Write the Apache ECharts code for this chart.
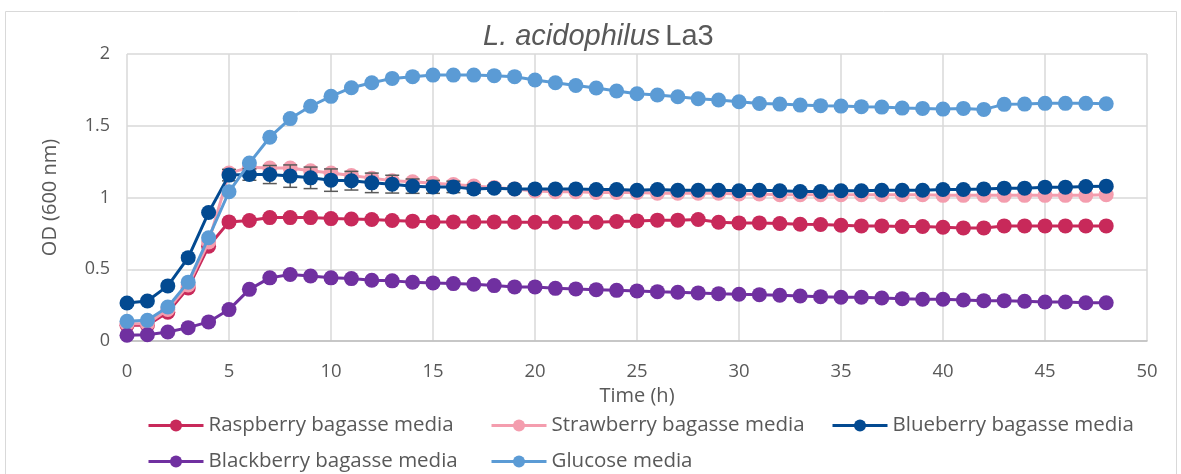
<!DOCTYPE html>
<html>
<head>
<meta charset="utf-8">
<script src="https://cdn.jsdelivr.net/npm/echarts@6/dist/echarts.min.js"></script>
<style>
  html, body { margin: 0; padding: 0; background: #fff; }
  #chart { width: 1181px; height: 474px; }
</style>
</head>
<body>
<div id="chart"></div>
<script>
var hours = [];
for (var h = 0; h <= 48; h++) hours.push(h);

var raspberry = [0.11, 0.11, 0.20, 0.37, 0.66, 0.83, 0.84, 0.86, 0.86, 0.86, 0.853, 0.85, 0.847, 0.84, 0.835, 0.83, 0.83, 0.83, 0.83, 0.828,
    0.828, 0.828, 0.828, 0.828, 0.833, 0.837, 0.842, 0.842, 0.847, 0.828, 0.823, 0.823, 0.819, 0.814, 0.812, 0.807, 0.802, 0.802, 0.798, 0.798,
    0.793, 0.788, 0.788, 0.802, 0.802, 0.802, 0.802, 0.802, 0.802];
var strawberry = [0.12, 0.12, 0.22, 0.39, 0.69, 1.17, 1.21, 1.205, 1.205, 1.186, 1.17, 1.153, 1.135, 1.116, 1.11, 1.10, 1.09, 1.08, 1.07, 1.06,
    1.045, 1.04, 1.04, 1.035, 1.035, 1.035, 1.03, 1.03, 1.03, 1.03, 1.025, 1.025, 1.02, 1.02, 1.02, 1.02, 1.02, 1.02, 1.02, 1.02,
    1.015, 1.015, 1.015, 1.015, 1.015, 1.015, 1.015, 1.015, 1.02];
var blueberry = [0.265, 0.279, 0.384, 0.581, 0.895, 1.156, 1.16, 1.16, 1.149, 1.137, 1.121, 1.117, 1.102, 1.093, 1.079, 1.074, 1.074, 1.06, 1.065, 1.06,
    1.06, 1.06, 1.06, 1.056, 1.056, 1.051, 1.056, 1.051, 1.051, 1.051, 1.047, 1.051, 1.047, 1.042, 1.042, 1.047, 1.047, 1.051, 1.051, 1.051,
    1.056, 1.056, 1.06, 1.065, 1.065, 1.072, 1.072, 1.077, 1.079];
var blackberry = [0.04, 0.044, 0.063, 0.093, 0.133, 0.219, 0.36, 0.44, 0.463, 0.453, 0.44, 0.435, 0.423, 0.419, 0.409, 0.405, 0.40, 0.395, 0.386, 0.377,
    0.377, 0.367, 0.363, 0.358, 0.353, 0.349, 0.344, 0.34, 0.335, 0.33, 0.326, 0.323, 0.319, 0.314, 0.309, 0.305, 0.305, 0.30, 0.295, 0.291,
    0.291, 0.286, 0.281, 0.281, 0.277, 0.272, 0.272, 0.267, 0.267];
var glucose = [0.137, 0.144, 0.237, 0.41, 0.72, 1.04, 1.24, 1.42, 1.55, 1.636, 1.705, 1.765, 1.80, 1.83, 1.842, 1.853, 1.853, 1.853, 1.849, 1.842,
    1.819, 1.80, 1.78, 1.763, 1.742, 1.723, 1.714, 1.702, 1.688, 1.679, 1.667, 1.655, 1.651, 1.644, 1.64, 1.637, 1.633, 1.63, 1.623, 1.621,
    1.616, 1.621, 1.614, 1.649, 1.651, 1.656, 1.656, 1.656, 1.653];
// error bar half-widths on the blueberry series (0 = not drawn)
var blueberryErr = [0, 0, 0, 0, 0, 0.04, 0.04, 0.063, 0.078, 0.075, 0.078, 0.065, 0.068, 0.062, 0.05, 0.045, 0.04, 0.03, 0.02, 0.02,
    0.015, 0.015, 0.01, 0.01, 0.01, 0.01, 0.01, 0.01, 0.01, 0.01, 0.01, 0.01, 0.01, 0.01, 0.01, 0.01, 0.01, 0.01, 0.01, 0.01,
    0.01, 0.01, 0.01, 0.01, 0.01, 0.01, 0.01, 0.01, 0.01];

var seriesNames = ['Raspberry bagasse media', 'Strawberry bagasse media', 'Blueberry bagasse media', 'Blackberry bagasse media', 'Glucose media'];
var seriesColors = ['#C8295A', '#F49DAE', '#034A91', '#7030A0', '#5B9BD5'];
var seriesValues = [raspberry, strawberry, blueberry, blackberry, glucose];

var fontFamily = '"Open Sans", "Noto Sans", sans-serif';
var titleFont = '"Liberation Sans", Arial, sans-serif';
var textColor = '#595959';

function pairs(vals) {
    return hours.map(function (h, i) { return [h, vals[i]]; });
}

var chart = echarts.init(document.getElementById('chart'));

var series = seriesNames.map(function (name, i) {
    return {
        name: name,
        type: 'line',
        data: pairs(seriesValues[i]),
        symbol: 'circle',
        symbolSize: 15,
        showSymbol: true,
        color: seriesColors[i],
        lineStyle: { width: 3, color: seriesColors[i] },
        itemStyle: { color: seriesColors[i] },
        z: i === 2 ? 6 : (i === 4 ? 8 : 3 + i),
        animation: false
    };
});

series.push({
    name: 'err',
    type: 'custom',
    z: 5,
    animation: false,
    data: hours.map(function (h, i) { return [h, blueberry[i], blueberryErr[i]]; }),
    renderItem: function (params, api) {
        var x = api.value(0), y = api.value(1), e = api.value(2);
        if (!e) return null;
        var top = api.coord([x, y + e]);
        var bot = api.coord([x, y - e]);
        var hw = 7;
        var st = { stroke: '#595959', lineWidth: 1.5 };
        return {
            type: 'group',
            children: [
                { type: 'line', shape: { x1: top[0], y1: top[1], x2: bot[0], y2: bot[1] }, style: st },
                { type: 'line', shape: { x1: top[0] - hw, y1: top[1], x2: top[0] + hw, y2: top[1] }, style: st },
                { type: 'line', shape: { x1: bot[0] - hw, y1: bot[1], x2: bot[0] + hw, y2: bot[1] }, style: st }
            ]
        };
    }
});

var legendLeft = [147, 490, 831, 147, 490];
var legendTop = [415, 415, 415, 451, 451];
var legends = seriesNames.map(function (name, i) {
    return {
        data: [name],
        left: legendLeft[i],
        top: legendTop[i],
        padding: 0,
        itemWidth: 55,
        itemHeight: 15,
        itemGap: 5,
        lineStyle: { width: 3 },
        textStyle: { fontFamily: fontFamily, fontSize: 20.5, color: textColor }
    };
});

var option = {
    backgroundColor: '#fff',
    animation: false,
    title: {
        text: '{i|L. acidophilus} {n|La3}',
        left: 483,
        top: 22,
        padding: 0,
        textStyle: {
            rich: {
                i: { fontFamily: titleFont, fontSize: 29, fontStyle: 'italic', fontWeight: 'normal', color: textColor },
                n: { fontFamily: titleFont, fontSize: 29, fontWeight: 'normal', color: textColor }
            }
        }
    },
    legend: legends,
    grid: { left: 127, right: 34, top: 54, bottom: 133 },
    xAxis: {
        type: 'value',
        min: 0,
        max: 50,
        interval: 5,
        name: 'Time (h)',
        nameLocation: 'middle',
        nameGap: 35,
        nameTextStyle: { fontFamily: fontFamily, fontSize: 20, color: textColor },
        axisLine: { show: true, lineStyle: { color: '#BFBFBF', width: 1.5 } },
        axisTick: { show: false },
        axisLabel: { fontFamily: fontFamily, fontSize: 18.5, color: textColor, margin: 21 },
        splitLine: { show: true, lineStyle: { color: '#D9D9D9', width: 1.5 } }
    },
    yAxis: {
        type: 'value',
        min: 0,
        max: 2,
        interval: 0.5,
        name: 'OD (600 nm)',
        nameLocation: 'middle',
        nameGap: 67,
        nameTextStyle: { fontFamily: fontFamily, fontSize: 20, color: textColor },
        axisLine: { show: false },
        axisTick: { show: false },
        axisLabel: { fontFamily: fontFamily, fontSize: 18, color: textColor, margin: 17 },
        splitLine: { show: true, lineStyle: { color: '#D9D9D9', width: 1.5 } }
    },
    graphic: [{
        type: 'rect',
        shape: { x: 5.5, y: 11.5, width: 1171, height: 475 },
        style: { fill: 'none', stroke: '#D9D9D9', lineWidth: 1 },
        silent: true
    }],
    series: series
};

chart.setOption(option);
</script>
</body>
</html>
